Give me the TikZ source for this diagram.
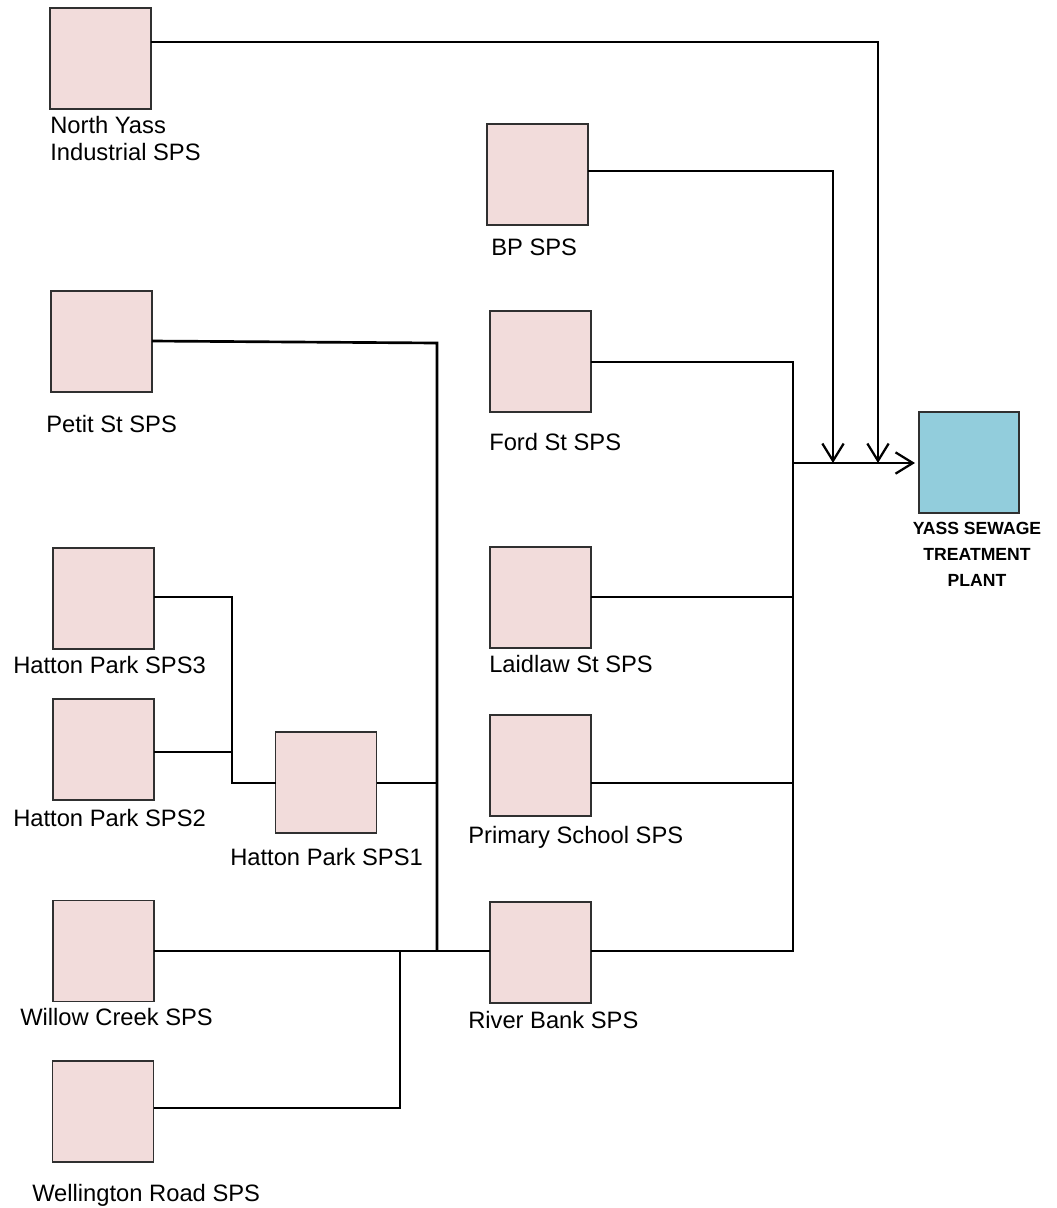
\documentclass[tikz,border=0pt]{standalone}
\usepackage{fontspec}
\setmainfont{Liberation Sans}
\usetikzlibrary{arrows.meta}
\definecolor{spspink}{HTML}{F2DCDB}
\definecolor{stpblue}{HTML}{92CDDC}
\definecolor{boxline}{HTML}{303030}
\begin{document}
\begin{tikzpicture}[x=0.75pt,y=-0.75pt,
  spsbox/.style={draw=boxline,line width=0.8pt,fill=spspink,minimum width=75.75pt,minimum height=75.75pt,inner sep=0pt,outer sep=0pt},
  stpbox/.style={spsbox,fill=stpblue,minimum width=75pt},
  lbl/.style={inner sep=0pt,anchor=base west,align=left,font=\fontsize{17.8}{20.25}\selectfont},
  stplbl/.style={inner sep=0pt,anchor=base,align=center,font=\fontsize{13.2}{19.5}\selectfont\bfseries},
  pipe/.style={line width=2pt,line join=miter},
  flow/.style={pipe,-{Straight Barb[length=13pt,width=16pt,line width=1.7pt]}}]
\useasboundingbox (0,0) rectangle (1057,1208);
% boxes
\node[spsbox] (ny) at (100.5,58.5) {};
\node[spsbox] (bp) at (537.5,174.5) {};
\node[spsbox] (petit) at (101.5,341.5) {};
\node[spsbox] (ford) at (540.5,361.5) {};
\node[stpbox] (stp) at (969,462.5) {};
\node[spsbox] (laidlaw) at (540.5,597.5) {};
\node[spsbox] (primary) at (540.5,765.5) {};
\node[spsbox] (river) at (540.5,952.5) {};
\node[spsbox] (h3) at (103.5,598.5) {};
\node[spsbox] (h2) at (103.5,749.5) {};
\node[spsbox] (h1) at (326,782.5) {};
\node[spsbox] (willow) at (103.5,951) {};
\node[spsbox] (well) at (103,1111.5) {};
% labels
\node[lbl] (nyl) at (50,160.5) {North Yass\\Industrial SPS};
\node[lbl] (bpl) at (491,255.5) {BP SPS};
\node[lbl] (petitl) at (46,432.5) {Petit St SPS};
\node[lbl] (fordl) at (489,450.5) {Ford St SPS};
\node[lbl] (laidlawl) at (489,672.5) {Laidlaw St SPS};
\node[lbl] (primaryl) at (468,843.5) {Primary School SPS};
\node[lbl] (riverl) at (468,1028.5) {River Bank SPS};
\node[lbl] (h3l) at (13,673.5) {Hatton Park SPS3};
\node[lbl] (h2l) at (13,826.5) {Hatton Park SPS2};
\node[lbl] (h1l) at (230,865.5) {Hatton Park SPS1};
\node[lbl] (willowl) at (20,1025.5) {Willow Creek SPS};
\node[lbl] (welll) at (32,1201.5) {Wellington Road SPS};
\node[stplbl] (stpl) at (977,586) {YASS SEWAGE\\TREATMENT\\PLANT};
% junction coordinates
\coordinate (nyc) at (878,42);
\coordinate (nyd) at (878,463);
\coordinate (bpc) at (833,171);
\coordinate (bpd) at (833,463);
\coordinate (rtop) at (793,362);
\coordinate (rmid) at (793,463);
\coordinate (rlaid) at (793,597);
\coordinate (rprim) at (793,783);
\coordinate (rbot) at (793,951);
\coordinate (ltop) at (437,343);
\coordinate (lmid) at (437,783);
\coordinate (lbot) at (437,951);
\coordinate (htop) at (232,597);
\coordinate (hmid) at (232,752);
\coordinate (hbot) at (232,783);
\coordinate (wtop) at (400,951);
\coordinate (wbot) at (400,1108);
% connectors
\draw[flow] (ny.east |- nyc) -- (nyc) -- (nyd);
\draw[flow] (bp.east |- bpc) -- (bpc) -- (bpd);
\draw[flow,shorten >=3pt] (rmid) -- (stp.west |- rmid);
\draw[pipe] (ford.east |- rtop) -- (rtop) -- (rbot) -- (river.east |- rbot);
\draw[pipe] (laidlaw.east |- rlaid) -- (rlaid);
\draw[pipe] (primary.east |- rprim) -- (rprim);
\draw[pipe] (petit.east |- 0,341) -- (ltop) -- (lbot);
\draw[pipe] (h1.east |- lmid) -- (lmid);
\draw[pipe] (h3.east |- htop) -- (htop) -- (hbot) -- (h1.west |- hbot);
\draw[pipe] (h2.east |- hmid) -- (hmid);
\draw[pipe] (willow.east |- lbot) -- (river.west |- lbot);
\draw[pipe] (well.east |- wbot) -- (wbot) -- (wtop);
\end{tikzpicture}
\end{document}
